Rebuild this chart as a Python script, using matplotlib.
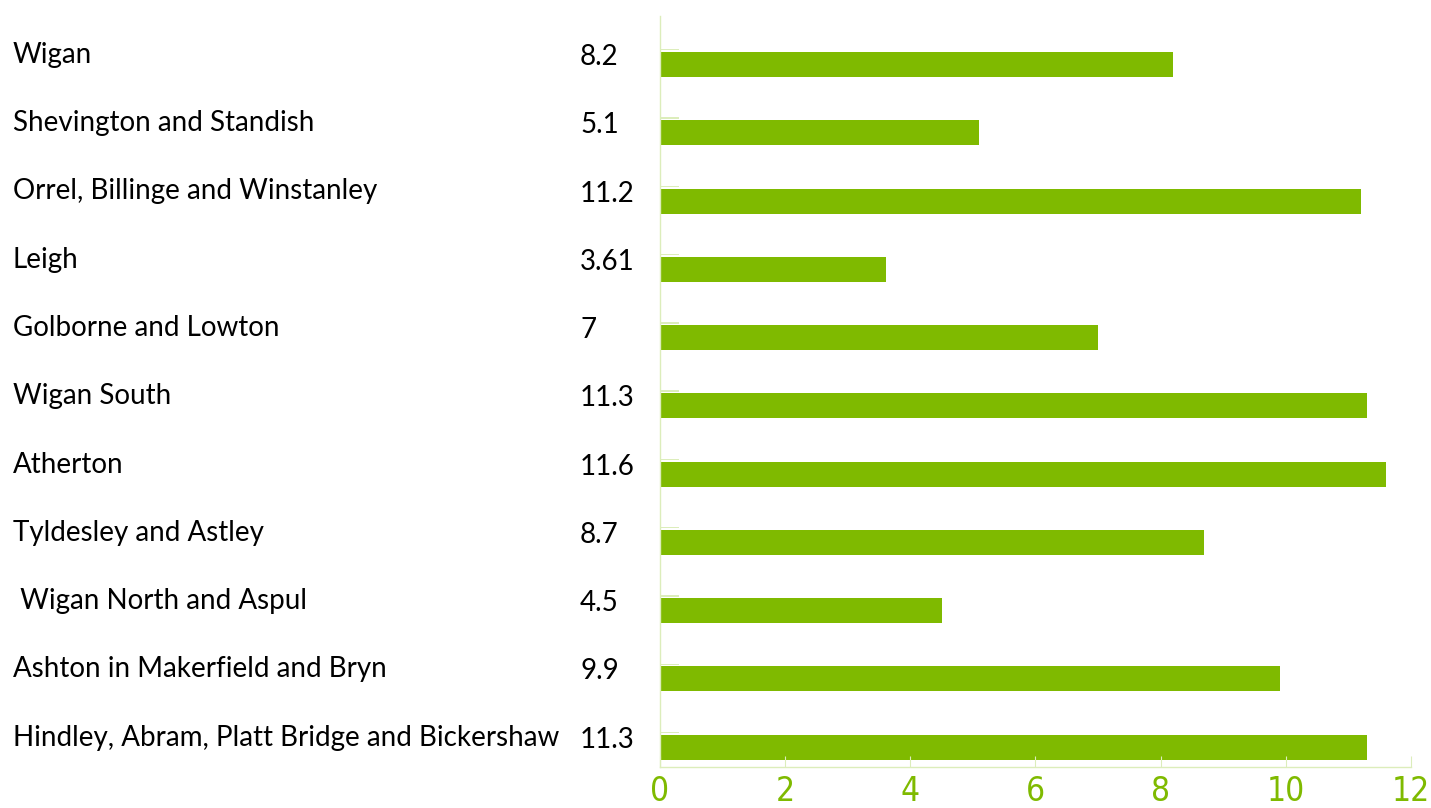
import numpy as np
import matplotlib.pyplot as plt
from matplotlib import transforms

# ward names (top to bottom) and their values
wards = ['Wigan', 'Shevington and Standish', 'Orrel, Billinge and Winstanley', 'Leigh',
         'Golborne and Lowton', 'Wigan South', 'Atherton', 'Tyldesley and Astley',
         ' Wigan North and Aspul', 'Ashton in Makerfield and Bryn',
         'Hindley, Abram, Platt Bridge and Bickershaw']
values = [8.2, 5.1, 11.2, 3.61, 7, 11.3, 11.6, 8.7, 4.5, 9.9, 11.3]
value_labels = ['8.2', '5.1', '11.2', '3.61', '7', '11.3', '11.6', '8.7', '4.5', '9.9', '11.3']
xticks = [0, 2, 4, 6, 8, 10, 12]

green = '#7fba00'
pale = '#dcedbb'

fig = plt.figure(figsize=(14.31, 8.08), dpi=100)
ax = fig.add_axes([0.4612, 0.0507, 0.5248, 0.9295])

y = np.arange(len(wards))
ax.barh(y + 0.21, values, height=0.366, color=green)
# faint empty series sitting just above each bar
ax.barh(y - 0.005, [0.3] * len(wards), height=0.02, color=pale)

ax.set_ylim(len(wards) - 0.5, -0.5)
ax.set_xlim(0, 12)
ax.set_yticks([])
ax.set_xticks(xticks)
ax.set_xticklabels([str(t) for t in xticks])

for s in ['top', 'right']:
    ax.spines[s].set_visible(False)
for s in ['left', 'bottom']:
    ax.spines[s].set_color(pale)
    ax.spines[s].set_linewidth(1)

ax.tick_params(axis='x', direction='in', length=8, color=pale, pad=6,
               labelcolor=green, labelsize=24)
for lab in ax.get_xticklabels():
    lab.set_family('DejaVu Sans')
    lab.set_stretch('condensed')

# names and values drawn to the left of the axis
trans = transforms.blended_transform_factory(fig.transFigure, ax.transData)
for i, (name, lbl) in enumerate(zip(wards, value_labels)):
    ax.text(13 / 1431, i + 0.07, name, transform=trans, ha='left', va='center',
            fontsize=20, family='Lato', color='black', clip_on=False)
    ax.text(580 / 1431, i + 0.1, lbl, transform=trans, ha='left', va='center',
            fontsize=20, family='Lato', color='black', clip_on=False)

fig.savefig('out.png', dpi=100)
